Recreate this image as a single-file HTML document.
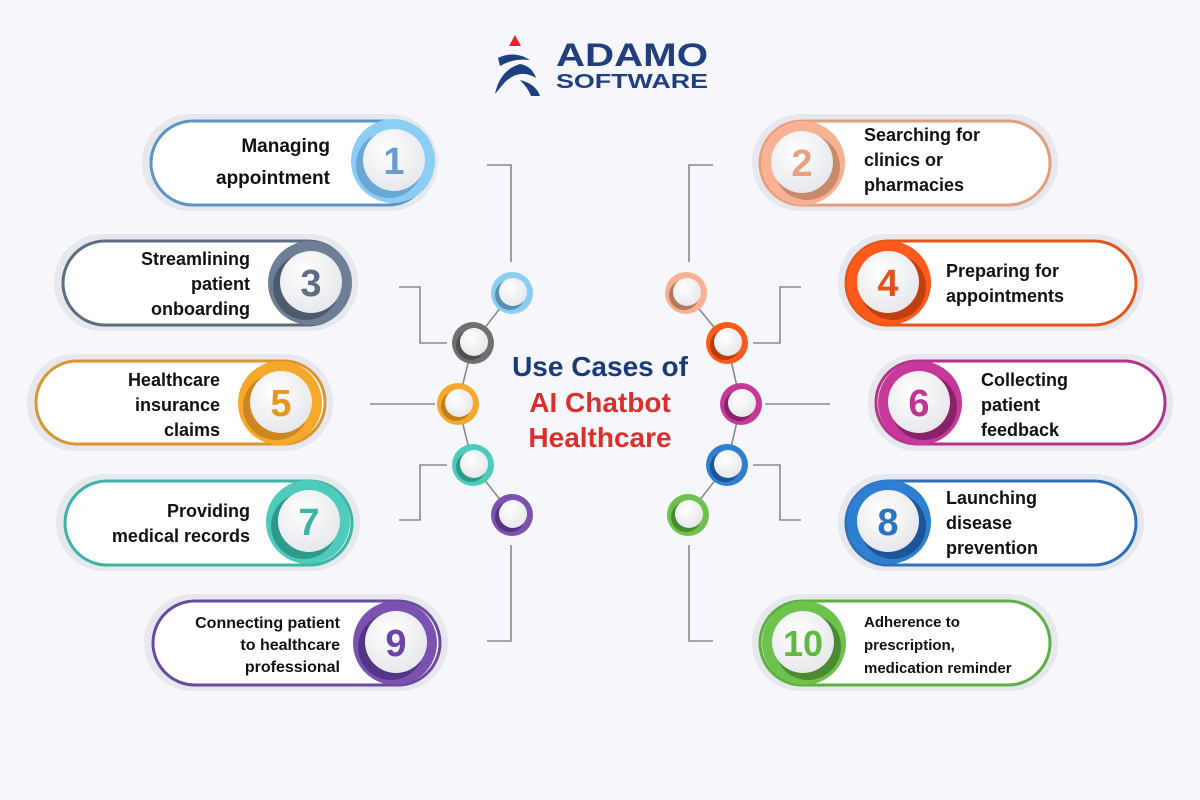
<!DOCTYPE html>
<html><head><meta charset="utf-8"><style>
html,body{margin:0;padding:0;background:#f5f7fc}
svg{display:block}
text{font-family:"Liberation Sans",sans-serif;font-weight:bold}
</style></head><body>
<svg width="1200" height="800" viewBox="0 0 1200 800" xmlns="http://www.w3.org/2000/svg">
<defs>
<radialGradient id="wg" cx="0.4" cy="0.35" r="0.7"><stop offset="0" stop-color="#ffffff"/><stop offset="1" stop-color="#e4e6ea"/></radialGradient>
</defs>
<rect width="1200" height="800" fill="#f5f7fc"/>
<!-- logo -->
<polygon points="509,46 521,46 515,35" fill="#e0282c"/>
<path d="M498,58 Q515,50 530,60 Q513,58 500,66 Z" fill="#1f3f80"/>
<path d="M495,94 Q500,70 520,64 Q532,66 536,78 Q520,68 505,82 Z" fill="#1f3f80"/>
<path d="M520,80 Q536,84 540,96 L531,96 Q528,88 520,80 Z" fill="#1f3f80"/>
<text x="556" y="66" font-size="32" fill="#213f7e" textLength="152" lengthAdjust="spacingAndGlyphs">ADAMO</text>
<text x="556" y="88" font-size="20" fill="#213f7e" textLength="152" lengthAdjust="spacingAndGlyphs">SOFTWARE</text>

<!-- connectors -->
<g fill="none" stroke="#8a8a8a" stroke-width="1.6">
<path d="M487,165 H511 V262"/><path d="M399,287 H420 V343 H447"/><path d="M370,404 H435"/>
<path d="M399,520 H420 V465 H447"/><path d="M487,641 H511 V545"/>
<path d="M713,165 H689 V262"/><path d="M801,287 H780 V343 H753"/><path d="M830,404 H765"/>
<path d="M801,520 H780 V465 H753"/><path d="M713,641 H689 V545"/>
<path d="M512,293 L473,343 L458,404 L473,465 L512,515"/>
<path d="M686,293 L727,343 L741,404 L727,465 L688,515"/>
</g>
<!-- small circles -->
<g>
<circle cx="512" cy="293" r="21" fill="#8ccdf3"/><circle cx="510" cy="295" r="15" fill="#5a8fb5"/><circle cx="513" cy="292" r="14" fill="url(#wg)"/>
<circle cx="473" cy="343" r="21" fill="#707070"/><circle cx="471" cy="345" r="15" fill="#505050"/><circle cx="474" cy="342" r="14" fill="url(#wg)"/>
<circle cx="458" cy="404" r="21" fill="#f6a82c"/><circle cx="456" cy="406" r="15" fill="#c57f18"/><circle cx="459" cy="403" r="14" fill="url(#wg)"/>
<circle cx="473" cy="465" r="21" fill="#4ecbbb"/><circle cx="471" cy="467" r="15" fill="#2f9a8c"/><circle cx="474" cy="464" r="14" fill="url(#wg)"/>
<circle cx="512" cy="515" r="21" fill="#7a52b0"/><circle cx="510" cy="517" r="15" fill="#543585"/><circle cx="513" cy="514" r="14" fill="url(#wg)"/>
<circle cx="686" cy="293" r="21" fill="#f8b293"/><circle cx="684" cy="295" r="15" fill="#b07a5e"/><circle cx="687" cy="292" r="14" fill="url(#wg)"/>
<circle cx="727" cy="343" r="21" fill="#ff5a1a"/><circle cx="725" cy="345" r="15" fill="#b83d0c"/><circle cx="728" cy="342" r="14" fill="url(#wg)"/>
<circle cx="741" cy="404" r="21" fill="#c7389b"/><circle cx="739" cy="406" r="15" fill="#8a2269"/><circle cx="742" cy="403" r="14" fill="url(#wg)"/>
<circle cx="727" cy="465" r="21" fill="#2f7fd0"/><circle cx="725" cy="467" r="15" fill="#1d5596"/><circle cx="728" cy="464" r="14" fill="url(#wg)"/>
<circle cx="688" cy="515" r="21" fill="#6cc24a"/><circle cx="686" cy="517" r="15" fill="#4a8a30"/><circle cx="689" cy="514" r="14" fill="url(#wg)"/>
</g>
<!-- center title -->
<text x="600" y="376" font-size="28" fill="#1b3a78" text-anchor="middle">Use Cases of</text>
<text x="600" y="412" font-size="28" fill="#d9302c" text-anchor="middle">AI Chatbot</text>
<text x="600" y="447" font-size="28" fill="#d9302c" text-anchor="middle">Healthcare</text>

<!-- cards -->
<g id="cards">
<rect x="142" y="114" width="296" height="97" rx="48" fill="#e6e8ed"/>
<rect x="151" y="121" width="279" height="84" rx="42" fill="#fff" stroke="#5b93c4" stroke-width="3"/>
<circle cx="393" cy="161" r="42" fill="#8ccdf3"/><circle cx="389" cy="165" r="33" fill="#6aa7d6"/><circle cx="394" cy="160" r="31" fill="url(#wg)"/>
<text x="394" y="174" font-size="38" fill="#6a9ccc" text-anchor="middle">1</text>
<text font-size="19" fill="#111" text-anchor="end"><tspan x="330" y="152">Managing</tspan><tspan x="330" y="184">appointment</tspan></text>

<rect x="54" y="234" width="304" height="97" rx="48" fill="#e6e8ed"/>
<rect x="63" y="241" width="287" height="84" rx="42" fill="#fff" stroke="#5d6c80" stroke-width="3"/>
<circle cx="310" cy="283" r="42" fill="#6e7f95"/><circle cx="306" cy="287" r="33" fill="#4d5b6e"/><circle cx="311" cy="282" r="31" fill="url(#wg)"/>
<text x="311" y="296" font-size="38" fill="#5d6e86" text-anchor="middle">3</text>
<text font-size="18" fill="#111" text-anchor="end"><tspan x="250" y="265">Streamlining</tspan><tspan x="250" y="290">patient</tspan><tspan x="250" y="315">onboarding</tspan></text>

<rect x="27" y="354" width="306" height="97" rx="48" fill="#e6e8ed"/>
<rect x="36" y="361" width="289" height="83" rx="41" fill="#fff" stroke="#d99530" stroke-width="3"/>
<circle cx="280" cy="403" r="42" fill="#f6a82c"/><circle cx="276" cy="407" r="33" fill="#cc8520"/><circle cx="281" cy="402" r="31" fill="url(#wg)"/>
<text x="281" y="416" font-size="38" fill="#e8961e" text-anchor="middle">5</text>
<text font-size="18" fill="#111" text-anchor="end"><tspan x="220" y="386">Healthcare</tspan><tspan x="220" y="411">insurance</tspan><tspan x="220" y="436">claims</tspan></text>

<rect x="56" y="474" width="304" height="97" rx="48" fill="#e6e8ed"/>
<rect x="65" y="481" width="287" height="84" rx="42" fill="#fff" stroke="#3fb3a3" stroke-width="3"/>
<circle cx="308" cy="522" r="42" fill="#4ecbbb"/><circle cx="304" cy="526" r="33" fill="#2f9a8c"/><circle cx="309" cy="521" r="31" fill="url(#wg)"/>
<text x="309" y="535" font-size="38" fill="#3bb5a6" text-anchor="middle">7</text>
<text font-size="18" fill="#111" text-anchor="end"><tspan x="250" y="517">Providing</tspan><tspan x="250" y="542">medical records</tspan></text>

<rect x="144" y="594" width="304" height="97" rx="48" fill="#e6e8ed"/>
<rect x="153" y="601" width="287" height="84" rx="42" fill="#fff" stroke="#6a4aa0" stroke-width="3"/>
<circle cx="395" cy="643" r="42" fill="#7a52b0"/><circle cx="391" cy="647" r="33" fill="#543585"/><circle cx="396" cy="642" r="31" fill="url(#wg)"/>
<text x="396" y="656" font-size="38" fill="#6a45a5" text-anchor="middle">9</text>
<text font-size="16" fill="#111" text-anchor="end"><tspan x="340" y="628">Connecting patient</tspan><tspan x="340" y="650">to healthcare</tspan><tspan x="340" y="672">professional</tspan></text>

<rect x="752" y="114" width="306" height="97" rx="48" fill="#e6e8ed"/>
<rect x="760" y="121" width="290" height="84" rx="42" fill="#fff" stroke="#e0a080" stroke-width="3"/>
<circle cx="803" cy="163" r="42" fill="#f8b293"/><circle cx="807" cy="167" r="33" fill="#c98a6c"/><circle cx="802" cy="162" r="31" fill="url(#wg)"/>
<text x="802" y="176" font-size="38" fill="#e8a080" text-anchor="middle">2</text>
<text font-size="18" fill="#111"><tspan x="864" y="141">Searching for</tspan><tspan x="864" y="166">clinics or</tspan><tspan x="864" y="191">pharmacies</tspan></text>

<rect x="838" y="234" width="306" height="97" rx="48" fill="#e6e8ed"/>
<rect x="846" y="241" width="290" height="84" rx="42" fill="#fff" stroke="#e0561c" stroke-width="3"/>
<circle cx="889" cy="283" r="42" fill="#ff5a1a"/><circle cx="893" cy="287" r="33" fill="#c0400e"/><circle cx="888" cy="282" r="31" fill="url(#wg)"/>
<text x="888" y="296" font-size="38" fill="#e8501a" text-anchor="middle">4</text>
<text font-size="18" fill="#111"><tspan x="946" y="277">Preparing for</tspan><tspan x="946" y="302">appointments</tspan></text>

<rect x="868" y="354" width="305" height="97" rx="48" fill="#e6e8ed"/>
<rect x="876" y="361" width="289" height="83" rx="41" fill="#fff" stroke="#b0358a" stroke-width="3"/>
<circle cx="920" cy="403" r="42" fill="#c7389b"/><circle cx="924" cy="407" r="33" fill="#8a2269"/><circle cx="919" cy="402" r="31" fill="url(#wg)"/>
<text x="919" y="416" font-size="38" fill="#c0358f" text-anchor="middle">6</text>
<text font-size="18" fill="#111"><tspan x="981" y="386">Collecting</tspan><tspan x="981" y="411">patient</tspan><tspan x="981" y="436">feedback</tspan></text>

<rect x="838" y="474" width="306" height="97" rx="48" fill="#e6e8ed"/>
<rect x="846" y="481" width="290" height="84" rx="42" fill="#fff" stroke="#2f6fb8" stroke-width="3"/>
<circle cx="889" cy="522" r="42" fill="#2f7fd0"/><circle cx="893" cy="526" r="33" fill="#1d5596"/><circle cx="888" cy="521" r="31" fill="url(#wg)"/>
<text x="888" y="535" font-size="38" fill="#2a74c4" text-anchor="middle">8</text>
<text font-size="18" fill="#111"><tspan x="946" y="504">Launching</tspan><tspan x="946" y="529">disease</tspan><tspan x="946" y="554">prevention</tspan></text>

<rect x="752" y="594" width="306" height="97" rx="48" fill="#e6e8ed"/>
<rect x="760" y="601" width="290" height="84" rx="42" fill="#fff" stroke="#5fae45" stroke-width="3"/>
<circle cx="804" cy="643" r="42" fill="#6cc24a"/><circle cx="808" cy="647" r="33" fill="#4a8a30"/><circle cx="803" cy="642" r="31" fill="url(#wg)"/>
<text x="803" y="656" font-size="36" fill="#5fb842" text-anchor="middle">10</text>
<text font-size="15" fill="#111"><tspan x="864" y="627">Adherence to</tspan><tspan x="864" y="650">prescription,</tspan><tspan x="864" y="673">medication reminder</tspan></text>
</g>
</svg>
</body></html>
